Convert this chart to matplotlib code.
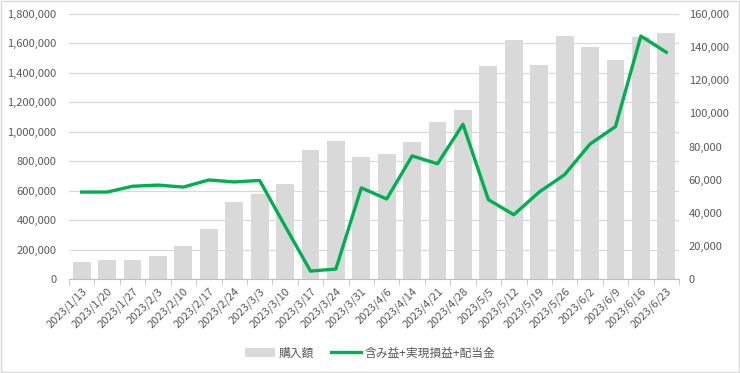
import matplotlib
matplotlib.use("Agg")
import matplotlib.pyplot as plt
from matplotlib.ticker import FuncFormatter, FixedLocator
from matplotlib.patches import Rectangle
import numpy as np

plt.rcParams['font.family'] = ['Noto Sans CJK JP', 'DejaVu Sans']

dates = ["2023/1/13", "2023/1/20", "2023/1/27", "2023/2/3", "2023/2/10", "2023/2/17",
         "2023/2/24", "2023/3/3", "2023/3/10", "2023/3/17", "2023/3/24", "2023/3/31",
         "2023/4/6", "2023/4/14", "2023/4/21", "2023/4/28", "2023/5/5", "2023/5/12",
         "2023/5/19", "2023/5/26", "2023/6/2", "2023/6/9", "2023/6/16", "2023/6/23"]
purchase = [115000, 129000, 127000, 156000, 224000, 340000, 523000, 577000, 645000,
            876000, 937000, 829000, 849000, 930000, 1066000, 1148000, 1447000, 1623000,
            1454000, 1650000, 1576000, 1487000, 1644000, 1671000]
profit = [52500, 52500, 56000, 56700, 55500, 59800, 58600, 59500, 32000, 4800, 6000,
          55000, 48300, 74300, 69600, 93400, 47900, 38800, 52500, 63000, 81500, 92000,
          146700, 136900]

bar_label = "購入額"
line_label = "含み益+実現損益+配当金"

fig = plt.figure(figsize=(7.4, 3.73), dpi=100)
fig.patches.append(Rectangle((0.001, 0.002), 0.997, 0.995, transform=fig.transFigure,
                             fill=False, edgecolor="#d9d9d9", linewidth=1))
ax = fig.add_axes([69/740, 1-279/373, (679-69)/740, (279-14)/373])
ax2 = ax.twinx()

x = np.arange(len(dates))
ax.bar(x, purchase, width=0.7, color="#d9d9d9", zorder=2, label=bar_label)
ax2.plot(x, profit, color="#00b050", linewidth=2.4, zorder=3, label=line_label)

ax.set_ylim(0, 1800000)
ax2.set_ylim(0, 160000)
ax.set_xlim(-0.5, len(dates)-0.5)
ax.set_yticks(np.arange(0, 1800001, 200000))
ax2.set_yticks(np.arange(0, 160001, 20000))
fmt = FuncFormatter(lambda v, p: f"{int(v):,}")
ax.yaxis.set_major_formatter(fmt)
ax2.yaxis.set_major_formatter(fmt)
ax.grid(axis='y', color="#d9d9d9", linewidth=0.9, zorder=0)
ax.set_axisbelow(True)

for a in (ax, ax2):
    for s in ("top", "left", "right"):
        a.spines[s].set_visible(False)
    a.spines["bottom"].set_color("#bfbfbf")
    a.tick_params(axis='y', length=0, labelsize=8, labelcolor="#595959")
ax.tick_params(axis='y', pad=9)
ax2.tick_params(axis='y', pad=7)
ax2.spines["bottom"].set_visible(False)

ax.set_xticks(x)
ax.set_xticklabels(dates, rotation=45, ha='right', rotation_mode='anchor',
                   fontsize=8, color="#595959")
ax.tick_params(axis='x', which='major', length=0, pad=5)
ax.xaxis.set_minor_locator(FixedLocator(np.arange(-0.5, len(dates), 1)))
ax.tick_params(axis='x', which='minor', length=4, color="#bfbfbf")

h1, l1 = ax.get_legend_handles_labels()
h2, l2 = ax2.get_legend_handles_labels()
fig.legend(h1 + h2, l1 + l2, loc='center', bbox_to_anchor=(0.5, 1-353/373), ncol=2,
           frameon=False, fontsize=8.5, labelcolor="#595959", handlelength=2.5,
           columnspacing=1.5, handletextpad=0.3)

fig.savefig("out.png", dpi=100)
